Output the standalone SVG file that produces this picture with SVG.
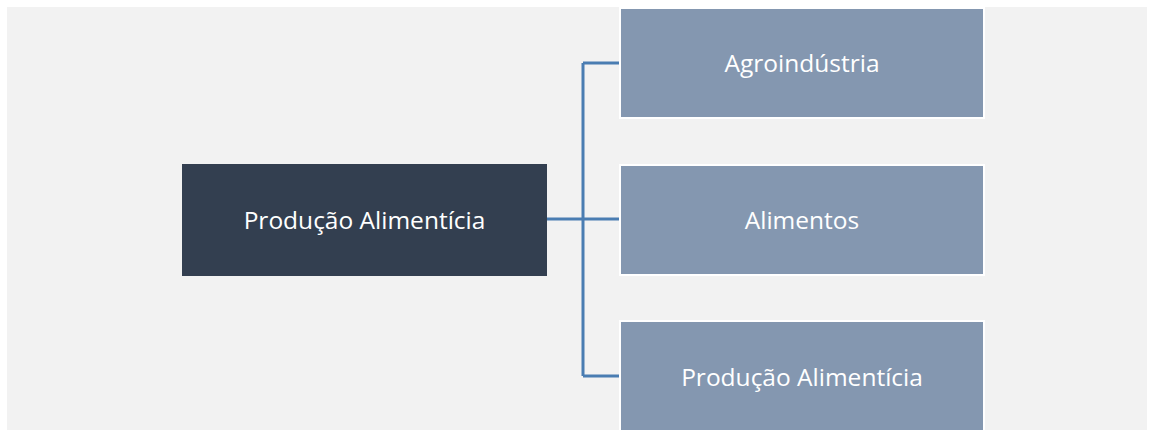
<svg xmlns="http://www.w3.org/2000/svg" width="1154" height="430" viewBox="0 0 1154 430">
<style>
.bg{fill:#f2f2f2}
.root{fill:#333f50}
.child{fill:#8497b0;stroke:#ffffff;stroke-width:2}
.lbl{fill:#ffffff;font-family:"Open Sans","Liberation Sans",sans-serif;font-size:24.5px;text-anchor:middle;dominant-baseline:central}
.conn{fill:none;stroke:#4a7db2;stroke-width:3}
</style>
<rect class="bg" x="7" y="7" width="1140" height="423"/>
<g id="connectors">
<path class="conn" d="M547,219 H620"/>
<path class="conn" d="M583,63 V376"/>
<path class="conn" d="M583,63 H620"/>
<path class="conn" d="M583,376 H620"/>
</g>
<g id="root">
<rect class="root" x="182" y="164" width="365" height="112"/>
<text class="lbl" x="364.5" y="219">Produção Alimentícia</text>
</g>
<g id="child1">
<rect class="child" x="620" y="8" width="364" height="110"/>
<text class="lbl" x="802" y="62">Agroindústria</text>
</g>
<g id="child2">
<rect class="child" x="620" y="165" width="364" height="110"/>
<text class="lbl" x="802" y="219">Alimentos</text>
</g>
<g id="child3">
<rect class="child" x="620" y="321" width="364" height="112"/>
<text class="lbl" x="802" y="376">Produção Alimentícia</text>
</g>
</svg>
